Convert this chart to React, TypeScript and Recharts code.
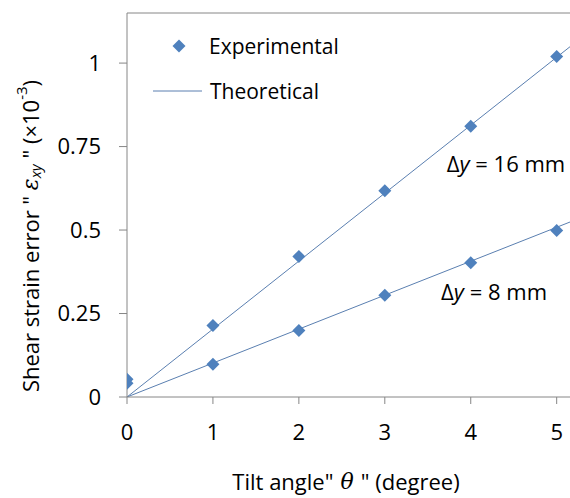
import React from "react";
import {
  ComposedChart,
  Scatter,
  Line,
  XAxis,
  YAxis,
  Legend,
  ReferenceLine,
  ReferenceDot,
} from "recharts";

// tilt angle (degree) where the strain was measured
const angles = [0, 1, 2, 3, 4, 5];
// measured shear strain error (x10^-3)
const measured16 = [0.053, 0.214, 0.421, 0.618, 0.811, 1.02];
const measured8 = [0.041, 0.098, 0.199, 0.305, 0.402, 0.499];

// theoretical straight lines, given at both ends of the axis
const lineAngles = [0, 5.155];
const theory16 = [0, 1.049];
const theory8 = [0, 0.524];

const xTicks = [0, 1, 2, 3, 4, 5];
const yTicks = [0, 0.25, 0.5, 0.75, 1];
const xMax = 5.155;
const yMax = 1.15;

const BLUE = "#4f81bd";
const LINE_BLUE = "#5a7fb0";
const AXIS = "#868686";
const FONT = "'Open Sans', sans-serif";

const exp16 = angles.map((t, i) => ({ theta: t, v: measured16[i] }));
const exp8 = angles.map((t, i) => ({ theta: t, v: measured8[i] }));
const th16 = lineAngles.map((t, i) => ({ theta: t, v: theory16[i] }));
const th8 = lineAngles.map((t, i) => ({ theta: t, v: theory8[i] }));

const Diamond = (props: any) => {
  const { cx, cy } = props;
  const r = 6.5;
  return (
    <polygon
      points={`${cx},${cy - r} ${cx + r},${cy} ${cx},${cy + r} ${cx - r},${cy}`}
      fill={BLUE}
    />
  );
};

const LegendBox = () => (
  <svg width={220} height={80} style={{ display: "block" }}>
    <polygon points="29,9.5 35.5,16 29,22.5 22.5,16" fill={BLUE} />
    <text x={59} y={16} dominantBaseline="central" fontSize={21} fontFamily={FONT} fill="#000">
      Experimental
    </text>
    <line x1={3} y1={61} x2={52} y2={61} stroke={LINE_BLUE} strokeWidth={1} />
    <text x={60} y={61} dominantBaseline="central" fontSize={21} fontFamily={FONT} fill="#000">
      Theoretical
    </text>
  </svg>
);

const gapLabel = (mm: string) => (props: any) => {
  const { viewBox } = props;
  return (
    <text
      x={viewBox.x}
      y={viewBox.y}
      dominantBaseline="central"
      fontSize={22}
      fontFamily={FONT}
      fill="#000"
    >
      Δ<tspan fontStyle="italic">y</tspan> = {mm} mm
    </text>
  );
};

const YTitle = (props: any) => {
  const { viewBox } = props;
  const cy = viewBox.y + viewBox.height / 2 + 31;
  return (
    <text
      x={30}
      y={cy}
      transform={`rotate(-90, 30, ${cy})`}
      textAnchor="middle"
      dominantBaseline="central"
      fontSize={22}
      fontFamily={FONT}
      fill="#000"
    >
      Shear strain error "{" "}
      <tspan fontStyle="italic" fontFamily="'DejaVu Serif', serif">ε</tspan>
      <tspan fontStyle="italic" fontSize={15} dy={5}>xy</tspan>
      <tspan dy={-5}> "  (×10</tspan>
      <tspan fontSize={15} dy={-9}>-3</tspan>
      <tspan dy={9}>)</tspan>
    </text>
  );
};

const XTitle = (props: any) => {
  const { viewBox } = props;
  return (
    <text
      x={346}
      y={viewBox.y + 84}
      textAnchor="middle"
      dominantBaseline="central"
      fontSize={22}
      fontFamily={FONT}
      fill="#000"
    >
      Tilt angle"
      <tspan fontStyle="italic" fontFamily="'DejaVu Serif', serif"> θ </tspan>
      " (degree)
    </text>
  );
};

export default function App() {
  return (
    <div style={{ position: "absolute", left: 0, top: 0, width: 570, height: 498, background: "#fff" }}>
      <ComposedChart
        width={570}
        height={498}
        margin={{ top: 13, right: 0, bottom: 0, left: 0 }}
      >
        <XAxis
          type="number"
          dataKey="theta"
          domain={[0, xMax]}
          ticks={xTicks}
          allowDataOverflow
          height={101}
          stroke={AXIS}
          tickSize={7}
          tickMargin={20}
          tick={{ fontSize: 22, fontFamily: FONT, fill: "#000" }}
          label={{ content: XTitle }}
        />
        <YAxis
          type="number"
          dataKey="v"
          domain={[0, yMax]}
          ticks={yTicks}
          allowDataOverflow
          width={127}
          stroke={AXIS}
          tickSize={8}
          tickMargin={18}
          tick={{ fontSize: 22, fontFamily: FONT, fill: "#000" }}
          label={{ content: YTitle }}
        />
        <ReferenceLine y={yMax} stroke={AXIS} strokeWidth={1} />
        <Line
          data={th16}
          dataKey="v"
          stroke={LINE_BLUE}
          strokeWidth={1}
          dot={false}
          isAnimationActive={false}
          legendType="none"
        />
        <Line
          data={th8}
          dataKey="v"
          stroke={LINE_BLUE}
          strokeWidth={1}
          dot={false}
          isAnimationActive={false}
          legendType="none"
        />
        <Scatter data={exp16} dataKey="v" shape={Diamond} isAnimationActive={false} />
        <Scatter data={exp8} dataKey="v" shape={Diamond} isAnimationActive={false} />
        <ReferenceDot x={3.72} y={0.701} r={0} label={{ content: gapLabel("16") }} />
        <ReferenceDot x={3.655} y={0.318} r={0} label={{ content: gapLabel("8") }} />
        <Legend
          layout="vertical"
          align="center"
          verticalAlign="middle"
          content={LegendBox}
          wrapperStyle={{ left: 150, top: 30, width: 220, height: 80 }}
        />
      </ComposedChart>
    </div>
  );
}
